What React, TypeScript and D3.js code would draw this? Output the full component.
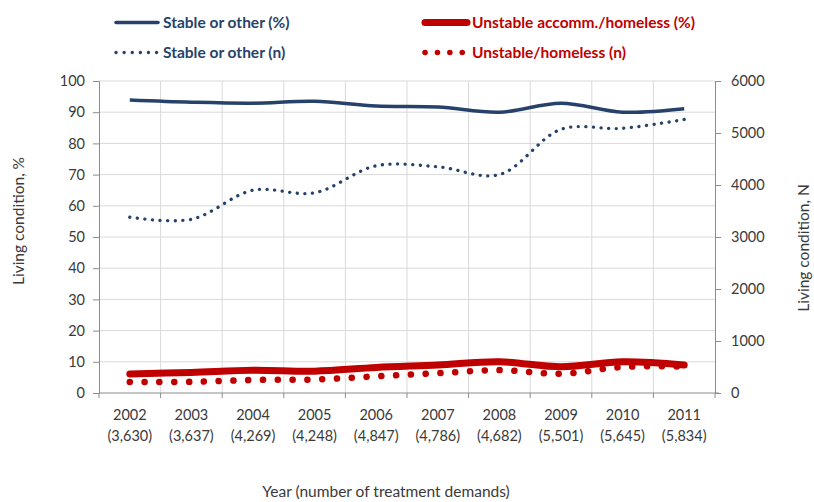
import { useEffect, useRef } from 'react'
import * as d3 from 'd3'

const years = ['2002', '2003', '2004', '2005', '2006', '2007', '2008', '2009', '2010', '2011']
const demands = ['(3,630)', '(3,637)', '(4,269)', '(4,248)', '(4,847)', '(4,786)', '(4,682)', '(5,501)', '(5,645)', '(5,834)']

// percentages (left axis)
const stablePct = [93.9, 93.2, 92.9, 93.5, 92.0, 91.7, 90.0, 92.9, 90.0, 91.1]
const unstablePct = [6.1, 6.6, 7.3, 7.0, 8.2, 9.0, 10.0, 8.4, 10.0, 9.0]

// counts (right axis)
const stableN = [3380, 3340, 3900, 3850, 4370, 4350, 4200, 5070, 5090, 5260]
const unstableN = [210, 215, 250, 260, 320, 380, 440, 370, 500, 510]

const leftTicks = [0, 10, 20, 30, 40, 50, 60, 70, 80, 90, 100]
const rightTicks = [0, 1000, 2000, 3000, 4000, 5000, 6000]

const NAVY = '#27426A'
const RED = '#C00000'
const GRID = '#d9d9d9'
const AXIS = '#8c8c8c'
const TEXT = '#3a3a3a'
const FONT = 'Lato, "Open Sans", sans-serif'

export default function App() {
  const svgRef = useRef<SVGSVGElement>(null)

  useEffect(() => {
    if (!svgRef.current) return
    const svg = d3.select(svgRef.current)
    svg.selectAll('*').remove()

    const left = 99, right = 715, top = 81, bottom = 393

    const x = d3.scaleBand().domain(years).range([left, right]).padding(0)
    const cx = (d: string) => x(d)! + x.bandwidth() / 2
    const yL = d3.scaleLinear().domain([0, 100]).range([bottom, top])
    const yR = d3.scaleLinear().domain([0, 6000]).range([bottom, top])

    // gridlines
    const grid = svg.append('g')
    grid.selectAll('.hg')
      .data(leftTicks.filter(t => t > 0))
      .enter().append('line')
      .attr('x1', left).attr('x2', right)
      .attr('y1', d => yL(d)).attr('y2', d => yL(d))
      .attr('stroke', GRID).attr('stroke-width', 1)
    grid.selectAll('.vg')
      .data(years.slice(1))
      .enter().append('line')
      .attr('x1', d => x(d)!).attr('x2', d => x(d)!)
      .attr('y1', top).attr('y2', bottom)
      .attr('stroke', GRID).attr('stroke-width', 1)

    // axes
    const axL = svg.append('g').attr('transform', `translate(${left},0)`)
      .call(d3.axisLeft(yL).tickValues(leftTicks).tickSize(6).tickPadding(8))
    const axR = svg.append('g').attr('transform', `translate(${right},0)`)
      .call(d3.axisRight(yR).tickValues(rightTicks).tickFormat(d3.format('d')).tickSize(6).tickPadding(10))
    const boundaries = d3.range(0, years.length + 1).map(i => left + i * x.bandwidth())
    const axB = svg.append('g')
    axB.append('line')
      .attr('x1', left).attr('x2', right + 4)
      .attr('y1', bottom).attr('y2', bottom)
      .attr('stroke', AXIS)
    axB.selectAll('.tk').data(boundaries).enter().append('line')
      .attr('x1', d => d).attr('x2', d => d)
      .attr('y1', bottom).attr('y2', bottom + 5)
      .attr('stroke', AXIS)

    for (const ax of [axL, axR]) {
      ax.select('.domain').attr('stroke', AXIS)
      ax.selectAll('.tick line').attr('stroke', AXIS)
      ax.selectAll('.tick text')
        .attr('fill', TEXT).attr('font-size', 14.5).attr('font-family', FONT)
    }

    const xl = svg.append('g').attr('font-family', FONT).attr('font-size', 14.5).attr('fill', TEXT)
      .attr('text-anchor', 'middle')
    xl.selectAll('.yr').data(years).enter().append('text')
      .attr('x', d => cx(d)).attr('y', 420).text(d => d)
    xl.selectAll('.dm').data(demands).enter().append('text')
      .attr('x', (_, i) => cx(years[i])).attr('y', 441).text(d => d)

    // titles
    svg.append('text')
      .attr('x', 386).attr('y', 497)
      .attr('text-anchor', 'middle')
      .attr('font-family', FONT).attr('font-size', 15.5).attr('fill', TEXT)
      .text('Year (number of treatment demands)')
    svg.append('text')
      .attr('transform', 'translate(24,221) rotate(-90)')
      .attr('text-anchor', 'middle')
      .attr('font-family', FONT).attr('font-size', 15.5).attr('fill', TEXT)
      .text('Living condition, %')
    svg.append('text')
      .attr('transform', 'translate(809,248) rotate(-90)')
      .attr('text-anchor', 'middle')
      .attr('font-family', FONT).attr('font-size', 15.5).attr('fill', TEXT)
      .text('Living condition, N')

    // series
    const curve = d3.curveCatmullRom.alpha(0.5)
    const lineL = d3.line<number>().x((_, i) => cx(years[i])).y(d => yL(d)).curve(curve)
    const lineR = d3.line<number>().x((_, i) => cx(years[i])).y(d => yR(d)).curve(curve)

    svg.append('path').attr('d', lineL(stablePct)!)
      .attr('fill', 'none').attr('stroke', NAVY).attr('stroke-width', 3.5)
    svg.append('path').attr('d', lineR(stableN)!)
      .attr('fill', 'none').attr('stroke', NAVY).attr('stroke-width', 3.3)
      .attr('stroke-linecap', 'round').attr('stroke-dasharray', '0.1 7.5')
    svg.append('path').attr('d', lineL(unstablePct)!)
      .attr('fill', 'none').attr('stroke', RED).attr('stroke-width', 7)
      .attr('stroke-linecap', 'round')
    svg.append('path').attr('d', lineR(unstableN)!)
      .attr('fill', 'none').attr('stroke', RED).attr('stroke-width', 6.5)
      .attr('stroke-linecap', 'round').attr('stroke-dasharray', '0.1 14.7')

    // legend
    const legend = [
      { label: 'Stable or other (%)', color: NAVY, x: 116, y: 22.5, w: 3.5, dash: null as string | null },
      { label: 'Stable or other (n)', color: NAVY, x: 116, y: 52.5, w: 3.3, dash: '0.1 8' },
      { label: 'Unstable accomm./homeless (%)', color: RED, x: 425, y: 22.5, w: 7, dash: null },
      { label: 'Unstable/homeless (n)', color: RED, x: 425, y: 52.5, w: 5.5, dash: '0.1 12.3' },
    ]
    const lg = svg.append('g')
    legend.forEach(l => {
      lg.append('line')
        .attr('x1', l.x).attr('x2', l.x + 42)
        .attr('y1', l.y).attr('y2', l.y)
        .attr('stroke', l.color).attr('stroke-width', l.w)
        .attr('stroke-linecap', 'round')
        .attr('stroke-dasharray', l.dash)
      lg.append('text')
        .attr('x', l.x + 47).attr('y', l.y + 5)
        .attr('font-family', FONT).attr('font-size', 15.5).attr('font-weight', 'bold')
        .attr('fill', l.color)
        .text(l.label)
    })
  }, [])

  return (
    <svg ref={svgRef} width={814} height={502}
      style={{ position: 'absolute', left: 0, top: 0, background: '#fff' }} />
  )
}
